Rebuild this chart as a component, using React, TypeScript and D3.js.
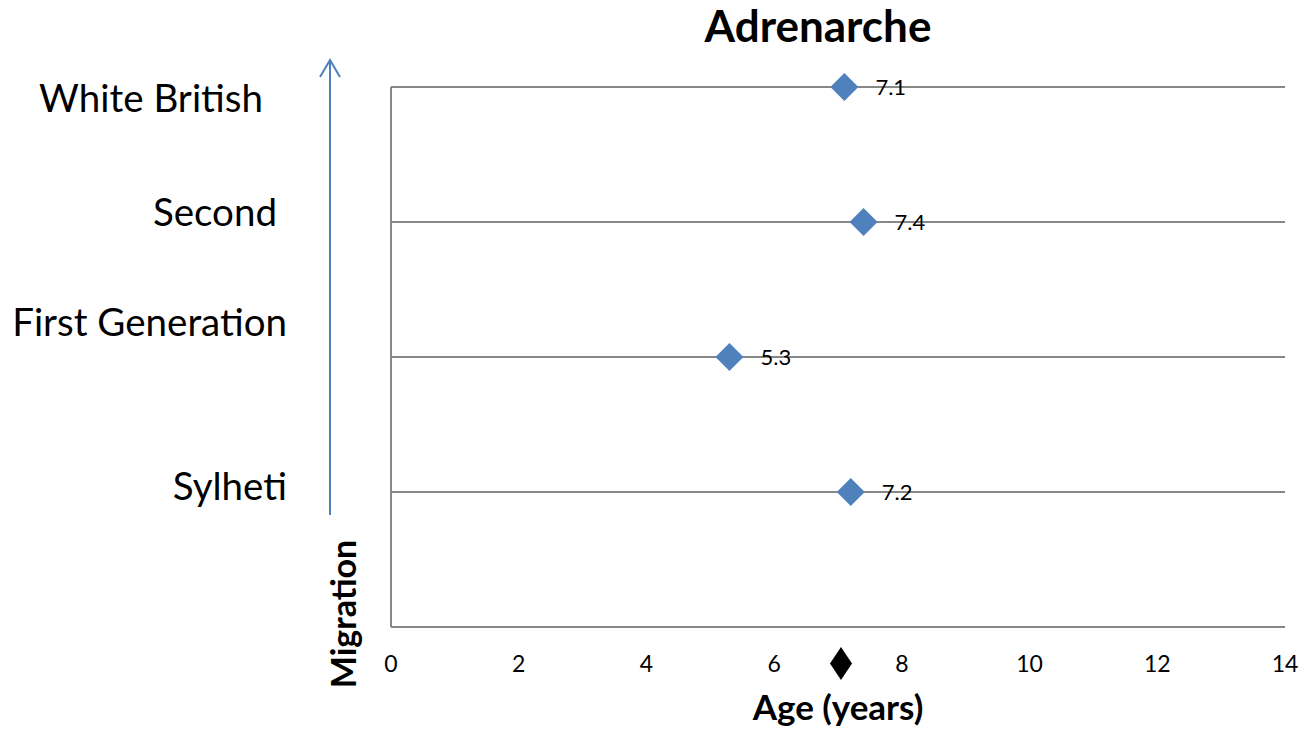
import React from "react";
import * as d3 from "d3";

const categories = ["Sylheti", "First Generation", "Second", "White British"];
const categoryLevels = [1, 2, 3, 4];
const values = [7.2, 5.3, 7.4, 7.1];
const xTicks = [0, 2, 4, 6, 8, 10, 12, 14];
const yGrid = [1, 2, 3, 4];
const markerAge = [7];
const labelPos = [
  { x: 287, y: 487 },
  { x: 287, y: 323 },
  { x: 277, y: 213 },
  { x: 263, y: 99 },
];

export default function App() {
  const W = 1313, H = 733;
  const x = d3.scaleLinear().domain([0, 14]).range([391, 1285]);
  const y = d3.scaleLinear().domain([0, 4]).range([627, 87]);
  const font = "Lato, 'Open Sans', sans-serif";
  const blue = "#4F81BD";
  const grid = "#878787";
  const diamond = (cx: number, cy: number, hw: number, hh: number) =>
    `M${cx},${cy - hh}L${cx + hw},${cy}L${cx},${cy + hh}L${cx - hw},${cy}Z`;
  return (
    <svg width={W} height={H} style={{ position: "absolute", left: 0, top: 0, background: "#fff" }} fontFamily={font}>
      <text x={818} y={42} textAnchor="middle" fontSize={44} fontWeight="bold">Adrenarche</text>
      {yGrid.map((g) => (
        <line key={g} x1={x(0)} x2={x(14)} y1={y(g)} y2={y(g)} stroke={grid} strokeWidth={2} />
      ))}
      <line x1={x(0)} x2={x(14)} y1={y(0)} y2={y(0)} stroke={grid} strokeWidth={2} />
      <line x1={x(0)} x2={x(0)} y1={y(4)} y2={y(0)} stroke={grid} strokeWidth={2} />
      {xTicks.map((t) => (
        <text key={t} x={x(t)} y={672} textAnchor="middle" fontSize={23}>{t}</text>
      ))}
      {values.map((v, i) => (
        <g key={i}>
          <path d={diamond(x(v), y(categoryLevels[i]), 14, 14)} fill={blue} />
          <text x={x(v) + 31} y={y(categoryLevels[i]) + 8} fontSize={22}>{v.toFixed(1)}</text>
        </g>
      ))}
      {categories.map((c, i) => (
        <text key={c} x={labelPos[i].x} y={labelPos[i].y + 13} textAnchor="end" fontSize={38.5}>{c}</text>
      ))}
      <line x1={330} x2={330} y1={62} y2={515} stroke={blue} strokeWidth={2} />
      <polyline points="320,77 330,60 340,77" fill="none" stroke={blue} strokeWidth={2} />
      <text transform="translate(356,614) rotate(-90)" textAnchor="middle" fontSize={34} fontWeight="bold">Migration</text>
      {markerAge.map((m) => (
        <path key={m} d={diamond(x(m) + 3, 663.5, 11, 16.5)} fill="#000" />
      ))}
      <text x={838} y={720} textAnchor="middle" fontSize={35} fontWeight="bold">Age (years)</text>
    </svg>
  );
}
